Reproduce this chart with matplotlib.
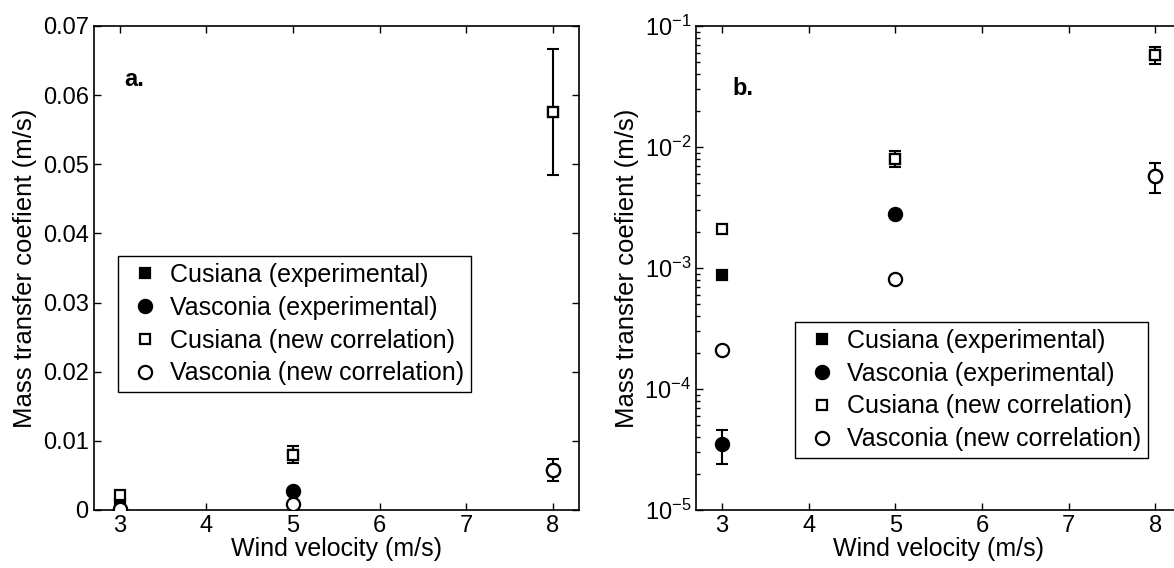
import numpy as np
import matplotlib
matplotlib.use("Agg")
import matplotlib.pyplot as plt
from matplotlib.ticker import FixedLocator, FuncFormatter

plt.rcParams['font.family'] = ['Liberation Sans', 'DejaVu Sans']
plt.rcParams['mathtext.fontset'] = 'custom'
plt.rcParams['mathtext.rm'] = 'Liberation Sans'
plt.rcParams['mathtext.it'] = 'Liberation Sans:italic'
plt.rcParams['mathtext.bf'] = 'Liberation Sans:bold'
plt.rcParams['font.size'] = 17

# wind velocity (m/s)
wind = [3, 5, 8]

# mass transfer coefficient (m/s)
cusiana_exp = [8.7e-4, 0.0080, 0.0576]
cusiana_exp_err = [0.0, 0.0012, 0.0091]
vasconia_exp = [3.5e-5, 0.0028, 0.0058]
vasconia_exp_err = [1.1e-5, 0.0, 0.0016]
cusiana_corr = [0.0021, 0.0080, 0.0576]
vasconia_corr = [2.1e-4, 8.1e-4, 0.0058]

labels = ['Cusiana (experimental)', 'Vasconia (experimental)',
          'Cusiana (new correlation)', 'Vasconia (new correlation)']

W, H = 1174, 568
fig = plt.figure(figsize=(W / 100, H / 100), dpi=100)

def px_axes(x0, y0, x1, y1):
    return fig.add_axes([x0 / W, 1 - y1 / H, (x1 - x0) / W, (y1 - y0) / H])

ax1 = px_axes(93.5, 26, 579, 510)
ax2 = px_axes(696, 26, 1181.5, 510)

ms_sq, ms_ci, mew = 7.5, 9.5, 1.6


def draw(ax):
    for y, e in [(cusiana_exp, cusiana_exp_err), (vasconia_exp, vasconia_exp_err)]:
        x = [w for w, v in zip(wind, e) if v > 0]
        yy = [a for a, v in zip(y, e) if v > 0]
        ee = [v for v in e if v > 0]
        ax.errorbar(x, yy, yerr=ee, fmt='none', ecolor='k', elinewidth=1.5,
                    capsize=4.5, capthick=1.5, zorder=2)
    h1, = ax.plot(wind, cusiana_exp, 's', color='k', ms=ms_sq - 1, mew=mew,
                  linestyle='none', zorder=3)
    h2, = ax.plot(wind, vasconia_exp, 'o', color='k', ms=ms_ci, mew=mew,
                  linestyle='none', zorder=3)
    h3, = ax.plot(wind, cusiana_corr, 's', mfc='white', mec='k', ms=ms_sq, mew=mew,
                  linestyle='none', zorder=4)
    h4, = ax.plot(wind, vasconia_corr, 'o', mfc='white', mec='k', ms=ms_ci, mew=mew,
                  linestyle='none', zorder=4)
    ax.set_xlim(2.7, 8.3)
    ax.set_xticks([3, 4, 5, 6, 7, 8])
    ax.tick_params(which='both', direction='in', top=True, right=True, width=1)
    ax.tick_params(which='major', length=5)
    ax.tick_params(which='minor', length=3)
    for s in ax.spines.values():
        s.set_linewidth(1.2)
    ax.set_xlabel('Wind velocity (m/s)', fontsize=18, labelpad=0)
    ax.set_ylabel('Mass transfer coefient (m/s)', fontsize=18.5)
    return [h1, h2, h3, h4]


def add_legend(ax, handles, x, y):
    leg = ax.legend(handles, labels, loc='upper left', fontsize=18,
                    bbox_to_anchor=(x / W, 1 - y / H), bbox_transform=fig.transFigure,
                    borderaxespad=0, fancybox=False, edgecolor='k', framealpha=1,
                    handlelength=1.6, handletextpad=0.2, borderpad=0.28,
                    labelspacing=0.35)
    leg.get_frame().set_linewidth(1.0)


handles = draw(ax1)
ax1.set_ylim(0, 0.07)
ax1.yaxis.set_major_locator(FixedLocator([0, 0.01, 0.02, 0.03, 0.04, 0.05, 0.06, 0.07]))
ax1.yaxis.set_major_formatter(FuncFormatter(lambda v, p: '%g' % round(v, 4)))
ax1.text(3.06, 0.0623, 'a.', fontweight='bold', va='center', ha='left', fontsize=17)
add_legend(ax1, handles, 118, 256)

handles = draw(ax2)
ax2.set_yscale('log')
ax2.set_ylim(1e-5, 1e-1)
ax2.text(3.12, 0.0307, 'b.', fontweight='bold', va='center', ha='left', fontsize=17)
add_legend(ax2, handles, 795, 322)

fig.savefig('out.png', dpi=100)
